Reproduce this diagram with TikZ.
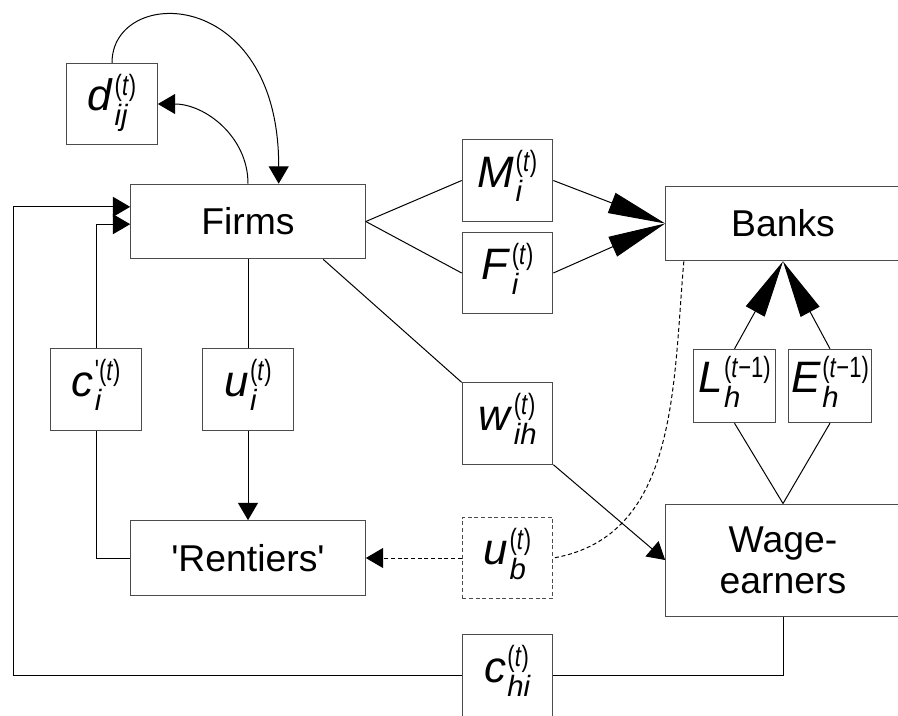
\documentclass[tikz,border=0pt]{standalone}
\usepackage{graphicx}
\usepackage{fontspec}
\setmainfont{Liberation Sans}
\usetikzlibrary{arrows.meta}
\newcommand{\flow}[4][]{\textit{#2}\kern1pt{\fontsize{22}{22}\selectfont\begin{tabular}{@{}l@{}}\scalebox{0.75}[1]{#1(#4)}\\\textit{#3}\end{tabular}}}

\begin{document}
\begin{tikzpicture}[x=0.75pt, y=-0.75pt,
	box/.style={draw=black!70, line width=0.75pt, inner sep=0pt, minimum width=176pt, minimum height=56pt, font=\fontsize{28}{31}\selectfont, align=center},
	var/.style={draw=black!70, line width=0.75pt, inner sep=0pt, minimum width=68pt, minimum height=61pt, font=\fontsize{33}{36}\selectfont},
	link/.style={line width=0.75pt},
	arr/.style={link, -{Triangle[length=13pt, width=15pt]}},
	bigarr/.style={link, -{Triangle[length=43pt, width=16pt]}}]
	\useasboundingbox (0,0) rectangle (898,715);
	\clip (0,0) rectangle (898,715);

	\node[box] (firms) at (248,221.5) {Firms};
	\node[var] (dij) at (112,104) {\flow{d}{ij}{\textit{t}}};
	\node[var] (mi) at (507.5,180.5) {\flow{M}{i}{\textit{t}}};
	\node[var] (fi) at (507.5,273) {\flow{F}{i}{\textit{t}}};
	\node[box] (banks) at (783,223.5) {Banks};
	\node[var, minimum width=62pt, minimum height=55pt] (lh) at (734.5,386) {\flow{L}{h}{\textit{t}−1}};
	\node[var, minimum width=62pt, minimum height=55pt] (eh) at (830,386) {\flow{E}{h}{\textit{t}−1}};
	\node[var] (wih) at (507.5,423.5) {\flow{w}{ih}{\textit{t}}};
	\node[box, minimum height=84pt] (wage) at (783,560) {Wage-\\earners};
	\node[var, dash pattern=on 3pt off 2pt] (ub) at (507.5,558) {\flow{u}{b}{\textit{t}}};
	\node[var] (chi) at (507.5,675.5) {\flow{c}{hi}{\textit{t}}};
	\node[var] (ci) at (96,389.5) {\flow[\textquotesingle]{c}{i}{\textit{t}}};
	\node[var] (ui) at (248,389.5) {\flow{u}{i}{\textit{t}}};
	\node[box] (rent) at (248,558) {\textquotesingle Rentiers\textquotesingle};

	\coordinate (edge) at (13,0);

	\draw[arr] (dij.north) .. controls (112,-15) and (279,-15) .. ([xshift=23pt]firms.north);
	\draw[arr] (firms.north) to[out=90, in=0] (dij.east);
	\draw[arr] (chi.west) -- (chi.west -| edge) |- ([yshift=11pt]firms.west);
	\draw[link] (wage.south) |- (chi.east);
	\draw[arr] (ci.north) |- ([yshift=-2pt]firms.west);
	\draw[link] (rent.west) -| (ci.south);
	\draw[link] (firms.south) -- (ui.north);
	\draw[arr] (ui.south) -- (rent.north);
	\draw[link] (firms.east) -- (mi.west);
	\draw[link] (firms.east) -- (fi.west);
	\draw[bigarr] (mi.east) -- (banks.west);
	\draw[bigarr] (fi.east) -- (banks.west);
	\draw[link] ([xshift=-32pt]firms.south east) -- (wih.north west);
	\draw[arr] (wih.south east) -- (wage.west);
	\draw[bigarr] (lh.north) -- (banks.south);
	\draw[bigarr] (eh.north) -- (banks.south);
	\draw[link] (lh.south) -- (wage.north);
	\draw[link] (eh.south) -- (wage.north);
	\draw[link, dash pattern=on 3pt off 2pt] ([xshift=14pt]banks.south west) to[out=-95, in=10] (ub.east);
	\draw[arr, dash pattern=on 3pt off 2pt] (ub.west) -- (rent.east);
\end{tikzpicture}
\end{document}
